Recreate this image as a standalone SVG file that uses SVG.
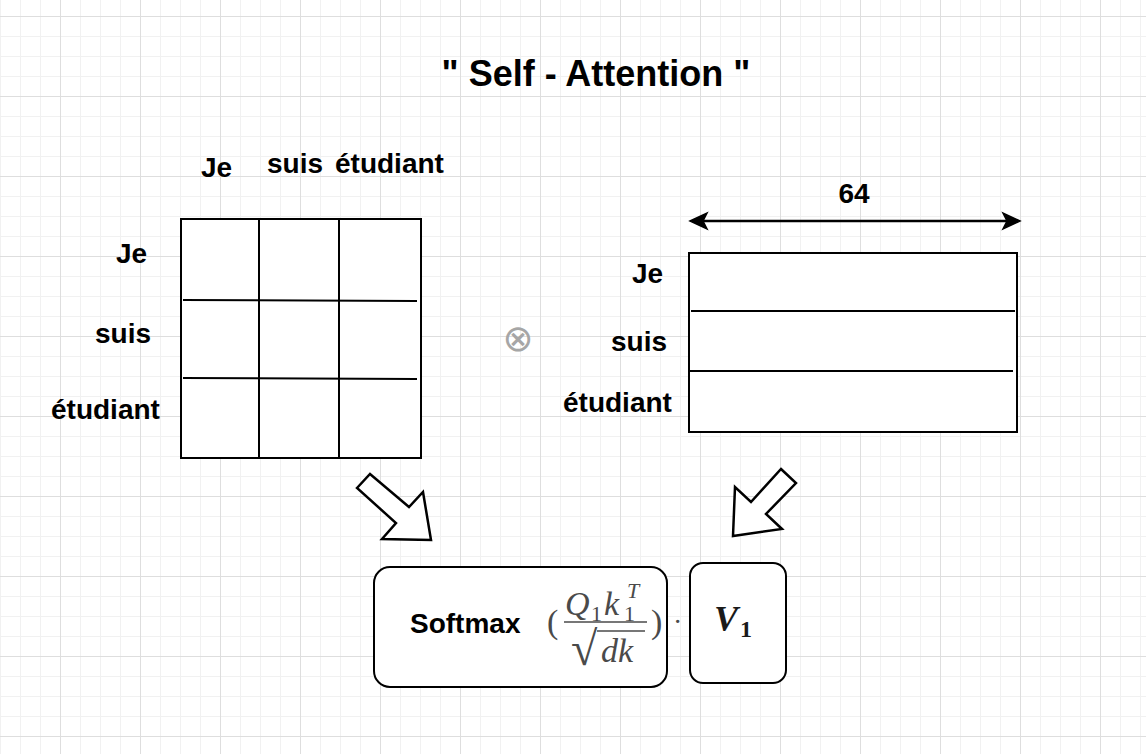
<svg xmlns="http://www.w3.org/2000/svg" width="1146" height="754" viewBox="0 0 1146 754">
<defs>
<pattern id="grid" x="60" y="16" width="80" height="80" patternUnits="userSpaceOnUse">
<path d="M20.5,0V80M40.5,0V80M60.5,0V80M0,20.5H80M0,40.5H80M0,60.5H80" stroke="#f1f1f1" stroke-width="1" fill="none"/>
<path d="M0.5,0V80M0,0.5H80" stroke="#dedede" stroke-width="1" fill="none"/>
</pattern>
</defs>
<style>
.lbl{font-family:"Liberation Sans",Arial,sans-serif;font-weight:bold;font-size:28px;fill:#000}
.box{fill:#fff;stroke:#000;stroke-width:2}
.ln{stroke:#000;stroke-width:2;fill:none}
.blk{fill:#fff;stroke:#000;stroke-width:2.5;stroke-linejoin:miter}
.m{font-family:"Liberation Serif","Times New Roman",serif;font-style:italic;fill:#4a4a4a}
.mr{font-family:"Liberation Serif","Times New Roman",serif;fill:#4a4a4a}
</style>
<rect width="1146" height="754" fill="#fff"/>
<rect width="1146" height="754" fill="url(#grid)"/>

<g id="title">
<text x="596" y="86" text-anchor="middle" style="font-family:'Liberation Sans',Arial,sans-serif;font-weight:bold;font-size:36px">" Self - Attention "</text>
</g>

<g id="col-labels">
<text class="lbl" x="201" y="177">Je</text>
<text class="lbl" x="267" y="173">suis</text>
<text class="lbl" x="335" y="173">étudiant</text>
</g>

<g id="row-labels-left">
<text class="lbl" x="116" y="263">Je</text>
<text class="lbl" x="95" y="343">suis</text>
<text class="lbl" x="51" y="419">étudiant</text>
</g>

<g id="matrix-attention">
<rect class="box" x="181" y="219" width="240" height="239"/>
<line class="ln" x1="259" y1="219" x2="259" y2="458"/>
<line class="ln" x1="339" y1="219" x2="339" y2="458"/>
<line class="ln" x1="183" y1="300" x2="417" y2="301"/>
<line class="ln" x1="183" y1="378" x2="417" y2="379"/>
</g>

<g id="otimes">
<text x="518" y="351" text-anchor="middle" style="font-family:'DejaVu Sans',sans-serif;font-size:37px;fill:#a6a6a6">⊗</text>
</g>

<g id="row-labels-right">
<text class="lbl" x="632" y="283">Je</text>
<text class="lbl" x="611" y="351">suis</text>
<text class="lbl" x="563" y="412">étudiant</text>
</g>

<g id="dim-label">
<text class="lbl" x="854" y="203" text-anchor="middle">64</text>
</g>

<g id="matrix-values">
<rect class="box" x="689" y="253" width="328" height="179"/>
<line class="ln" x1="691" y1="311" x2="1015" y2="311"/>
<line class="ln" x1="690" y1="371" x2="1013" y2="371"/>
</g>

<g id="softmax-node">
<rect class="box" x="374" y="567" width="293" height="120" rx="16" ry="16"/>
<text class="lbl" x="410" y="633">Softmax</text>
<text class="mr" x="547" y="633" font-size="34">(</text>
<text class="m" x="565" y="615" font-size="34">Q</text>
<text class="mr" x="591" y="621" font-size="22">1</text>
<text class="m" x="604" y="615" font-size="34">k</text>
<text class="m" x="627" y="598" font-size="22">T</text>
<text class="mr" x="624" y="621" font-size="22">1</text>
<line x1="564" y1="622" x2="647" y2="622" stroke="#4a4a4a" stroke-width="1.6"/>
<text class="mr" x="571" y="665" font-size="48">√</text>
<line x1="597" y1="631" x2="645" y2="631" stroke="#4a4a4a" stroke-width="1.6"/>
<text class="m" x="601" y="662" font-size="34">dk</text>
<text class="mr" x="651" y="633" font-size="34">)</text>
<text class="mr" x="673" y="631" font-size="28">·</text>
</g>

<g id="v1-node">
<rect class="box" x="690" y="563" width="96" height="120" rx="13" ry="13"/>
<text x="714" y="631" style="font-family:'Liberation Serif','Times New Roman',serif;font-weight:bold;font-style:italic;font-size:36px;fill:#1a1a1a">V</text>
<text x="740" y="637" style="font-family:'Liberation Serif','Times New Roman',serif;font-weight:bold;font-size:24px;fill:#1a1a1a">1</text>
</g>

<g id="connectors">
<line x1="700" y1="221" x2="1010" y2="221" stroke="#000" stroke-width="2.5"/>
<path d="M690,221 L707,213 L703,221 L707,229 Z" fill="#000" stroke="#000" stroke-width="1.5"/>
<path d="M1020,221 L1003,213 L1007,221 L1003,229 Z" fill="#000" stroke="#000" stroke-width="1.5"/>
<polygon class="blk" points="357,488 370,474 409,507 423,492 431,540 382,539 396,523"/>
<polygon class="blk" points="781,469 796,483 766,514 782,529 733,536 735,487 751,502"/>
</g>
</svg>
